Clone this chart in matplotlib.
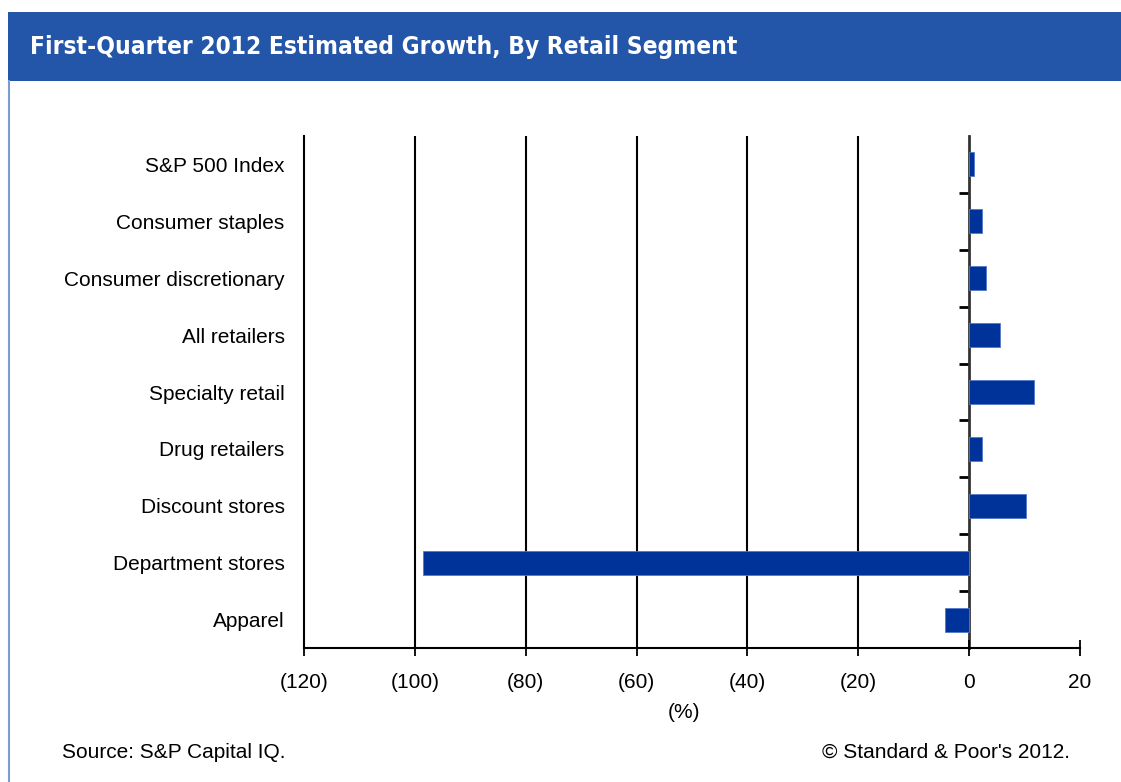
import matplotlib
matplotlib.use('Agg')
import matplotlib.pyplot as plt
from matplotlib.patches import Rectangle
from matplotlib.lines import Line2D

# Данные (оценка роста по сегментам, %)
segments = ['S&P 500 Index', 'Consumer staples', 'Consumer discretionary', 'All retailers',
            'Specialty retail', 'Drug retailers', 'Discount stores', 'Department stores', 'Apparel']
growth = [0.9, 2.3, 3.0, 5.6, 11.7, 2.3, 10.2, -98.6, -4.3]
x_ticks = [-120, -100, -80, -60, -40, -20, 0, 20]
x_labels = ['(120)', '(100)', '(80)', '(60)', '(40)', '(20)', '0', '20']

W, H = 1121, 782
plt.rcParams['font.family'] = ['Liberation Sans', 'DejaVu Sans']

fig = plt.figure(figsize=(W / 100, H / 100), dpi=100)
fig.patch.set_facecolor('white')

# Шапка
fig.patches.append(Rectangle((8 / W, 1 - 81 / H), 1, 69 / H, transform=fig.transFigure,
                             facecolor='#2355a8', edgecolor='none'))
fig.lines.append(Line2D([8.5 / W, 8.5 / W], [0, 1 - 81 / H], transform=fig.transFigure,
                        color='#7d9bd0', lw=1.5))
fig.text(30 / W, 1 - 47 / H, 'First-Quarter 2012 Estimated Growth, By Retail Segment',
         color='white', fontsize=17.6, fontweight='bold', va='center', ha='left',
         family=['DejaVu Sans'], fontstretch='condensed')

ax = fig.add_axes([304 / W, 1 - 648 / H, 776 / W, 512 / H])
ypos = list(range(len(segments)))
ax.barh(ypos, growth, height=0.42, color='#003399', edgecolor='#5577cc', linewidth=0.6, zorder=3)
ax.set_ylim(len(segments) - 0.5, -0.5)
ax.set_xlim(-120, 20)

for x in x_ticks[1:-2]:
    ax.axvline(x, color='black', lw=1.5, zorder=1)

ax.set_xticks(x_ticks)
ax.set_xticklabels(x_labels, fontsize=15)
ax.tick_params(axis='x', direction='inout', length=12, width=1.3, pad=12, colors='black')
ax.set_yticks(ypos)
ax.set_yticklabels(segments, fontsize=15)
ax.tick_params(axis='y', length=0, pad=14)

for s in ['top', 'right']:
    ax.spines[s].set_visible(False)
ax.spines['left'].set_linewidth(1.5)
ax.spines['bottom'].set_linewidth(1.5)

# Линия нуля с засечками между категориями
zero = ax.secondary_yaxis(120 / 140)
zero.set_yticks([i + 0.5 for i in ypos[:-1]])
zero.set_yticklabels([])
zero.tick_params(axis='y', direction='in', length=7, width=2, colors='black')
for s in zero.spines.values():
    s.set_linewidth(2)
    s.set_color('#333333')

fig.text(684 / W, 1 - 713 / H, '(%)', fontsize=15, ha='center', va='center')
fig.text(62 / W, 1 - 752 / H, 'Source: S&P Capital IQ.', fontsize=15, ha='left', va='center')
fig.text(1070 / W, 1 - 752 / H, "\u00a9 Standard & Poor's 2012.", fontsize=15, ha='right', va='center')

fig.savefig('out.png', dpi=100)
